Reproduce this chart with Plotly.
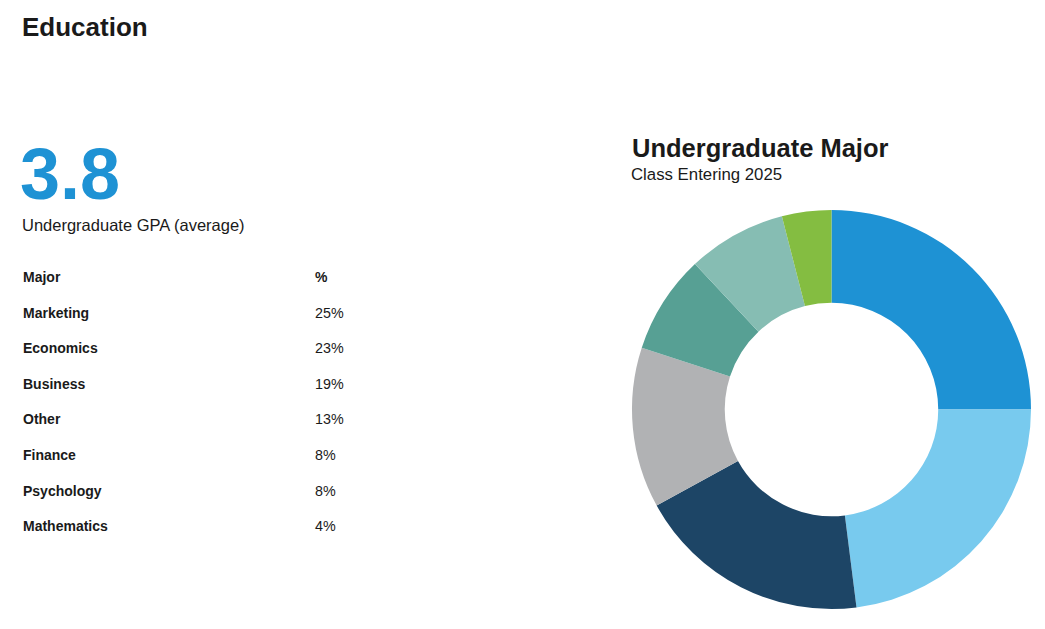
import plotly.graph_objects as go

W, H = 1045, 629
OFF = 8  # page body margin

majors = ["Marketing", "Economics", "Business", "Other", "Finance", "Psychology", "Mathematics"]
pcts = [25, 23, 19, 13, 8, 8, 4]
colors = ["#1e92d4", "#78caee", "#1d4566", "#b1b2b4", "#57a094", "#86bdb3", "#84bd41"]

gpa = "3.8"
FONT = "Liberation Sans, Arial, sans-serif"
INK = "#1a1a1a"


def px_x(x):
    return (x - OFF) / W


def px_y(y):
    return 1 - (y - OFF) / H


fig = go.Figure()
fig.add_trace(go.Pie(
    labels=majors, values=pcts, hole=0.535, sort=False, direction="clockwise",
    marker=dict(colors=colors, line=dict(width=0)), textinfo="none",
    domain=dict(x=[px_x(632), px_x(1031)], y=[px_y(609), px_y(210)]),
    showlegend=False,
))


def note(text, x, y, size, bold=False, color=INK):
    if bold:
        text = f"<b>{text}</b>"
    fig.add_annotation(text=text, x=px_x(x), y=px_y(y), xref="paper", yref="paper",
                       xanchor="left", yanchor="middle", showarrow=False,
                       font=dict(family=FONT, size=size, color=color))


note("Education", 20, 27, 26, bold=True)
note(gpa, 18, 174, 72, bold=True, color="#1e92d4")
note("Undergraduate GPA (average)", 20, 225, 16.5)

row_y0, row_step = 277, 35.6
note("Major", 21, row_y0, 14, bold=True)
note("%", 313, row_y0, 14, bold=True)
for i, (m, p) in enumerate(zip(majors, pcts)):
    y = row_y0 + row_step * (i + 1)
    note(m, 21, y, 14, bold=True)
    note(f"{p}%", 313, y, 14.3)

note("Undergraduate Major", 630, 148, 25.5, bold=True)
note("Class Entering 2025", 629, 174, 16.8)

fig.update_layout(
    width=W, height=H, margin=dict(l=0, r=0, t=0, b=0),
    paper_bgcolor="white", plot_bgcolor="white",
    font=dict(family=FONT, color=INK),
)

fig.write_html("out.html")
